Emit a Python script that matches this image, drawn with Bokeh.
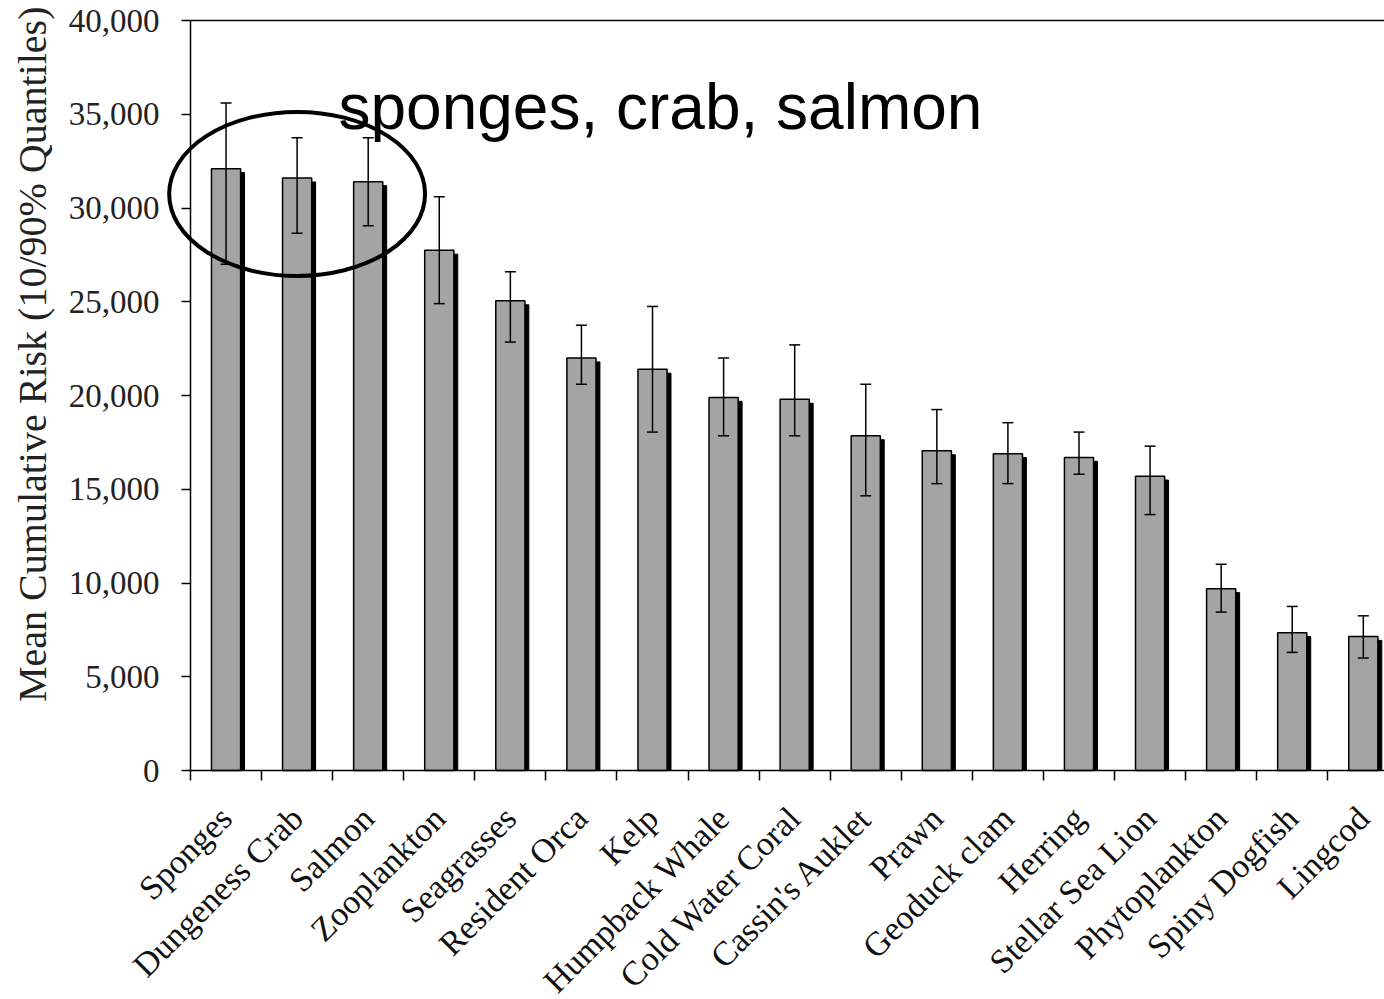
import math

from bokeh.embed import file_html
from bokeh.models import (ColumnDataSource, FixedTicker, Label, LinearAxis,
                          NumeralTickFormatter, Range1d, TeeHead, Whisker)
from bokeh.plotting import figure
from bokeh.resources import INLINE
from bokeh.transform import dodge

# Receptors ranked by mean cumulative risk, with 10% / 90% quantiles
species = ["Sponges", "Dungeness Crab", "Salmon", "Zooplankton", "Seagrasses",
           "Resident Orca", "Kelp", "Humpback Whale", "Cold Water Coral",
           "Cassin's Auklet", "Prawn", "Geoduck clam", "Herring",
           "Stellar Sea Lion", "Phytoplankton", "Spiny Dogfish", "Lingcod"]
mean_risk = [32100, 31600, 31400, 27750, 25050, 22000, 21400, 19900, 19800,
             17850, 17050, 16900, 16700, 15700, 9700, 7350, 7150]
q90 = [35600, 33750, 33750, 30600, 26600, 23750, 24750, 22000, 22700,
       20600, 19250, 18550, 18050, 17300, 11000, 8750, 8250]
q10 = [27000, 28650, 29050, 24900, 22850, 20600, 18050, 17850, 17850,
       14650, 15300, 15300, 15800, 13650, 8450, 6300, 6000]
y_ticks = [0, 5000, 10000, 15000, 20000, 25000, 30000, 35000, 40000]

highlight_text = "sponges, crab, salmon"
y_title = "Mean Cumulative Risk (10/90% Quantiles)"

SERIF = "Liberation Serif"
n = len(species)
idx = list(range(n))
first_edge = -0.5          # left edge of the first category
y_min, y_max = 0, 40000    # value-axis extent

src = ColumnDataSource(dict(x=idx, mean=mean_risk, upper=q90, lower=q10, name=species))

# The plotting frame fills the whole canvas; the axes are pinned inside it so
# their labels and the highlight ring are never clipped.
p = figure(width=1384, height=999, output_backend="svg", toolbar_location=None,
           x_range=Range1d(-3.173, 16.298), y_range=Range1d(-12213, 41067),
           min_border_left=0, min_border_right=0, min_border_top=0,
           min_border_bottom=0)
p.background_fill_color = "white"
p.border_fill_color = "white"
p.outline_line_color = None
p.grid.visible = False

# Drop shadow behind each bar, then the bar itself
p.vbar(x=dodge("x", 0.055, range=p.x_range), top=dodge("mean", -210), bottom=0,
       width=0.41, source=src, fill_color="black", line_color="black")
p.vbar(x="x", top="mean", bottom=0, width=0.41, source=src,
       fill_color="#a4a4a4", line_color="black", line_width=1.5)

# Quantile whiskers
whisk = Whisker(source=src, base="x", upper="upper", lower="lower", dimension="height",
                line_color="black", line_width=1.5, level="annotation",
                upper_head=TeeHead(size=11, line_color="black", line_width=1.5),
                lower_head=TeeHead(size=11, line_color="black", line_width=1.5))
p.add_layout(whisk)

# Y axis
yax = p.yaxis[0]
yax.fixed_location = first_edge
yax.bounds = (y_min, y_max)
yax.ticker = FixedTicker(ticks=y_ticks)
yax.formatter = NumeralTickFormatter(format="0,0")
yax.major_label_text_font = SERIF
yax.major_label_text_font_size = "33px"
yax.major_label_text_color = "#222222"
yax.major_label_standoff = 22
yax.major_tick_out = 9
yax.major_tick_in = 0
yax.minor_tick_line_color = None
yax.axis_line_width = 1.5
yax.major_tick_line_width = 1.5

# X axis: names under each bar, ticks between categories
xax = p.xaxis[0]
xax.fixed_location = y_min
xax.bounds = (first_edge, n + 1)
xax.ticker = FixedTicker(ticks=idx, minor_ticks=[i - 0.5 for i in range(n + 1)])
xax.major_label_overrides = {i: s for i, s in enumerate(species)}
xax.major_label_orientation = math.pi / 4
xax.major_label_text_font = SERIF
xax.major_label_text_font_size = "34px"
xax.major_label_text_color = "#111111"
xax.major_tick_line_color = None
xax.major_tick_out = 0
xax.major_tick_in = 0
xax.major_label_standoff = 32
xax.minor_tick_line_color = "black"
xax.minor_tick_line_width = 1.5
xax.minor_tick_out = 10
xax.minor_tick_in = 0
xax.axis_line_width = 1.5

# Top border line of the plotting area
top = LinearAxis(fixed_location=y_max, bounds=(first_edge, n + 1),
                 ticker=FixedTicker(ticks=[]), major_label_text_font_size="0px",
                 axis_line_width=1.5, major_tick_line_color=None,
                 minor_tick_line_color=None)
p.add_layout(top, "above")

# Vertical axis title
p.add_layout(Label(x=-2.72, y=22200, text=y_title, angle=math.pi / 2,
                   text_align="center", text_baseline="middle",
                   text_font=SERIF, text_font_size="40px", text_color="#222222"))

# Highlight of the three highest-risk receptors
p.ellipse(x=[1], y=[30750], width=3.6, height=8750, fill_color=None,
          line_color="black", line_width=4)
p.add_layout(Label(x=1.582, y=35380, text=highlight_text, text_align="left",
                   text_baseline="alphabetic", text_font="Liberation Sans",
                   text_font_size="64px", text_color="black"))

open("out.html", "w").write(file_html(p, INLINE))
